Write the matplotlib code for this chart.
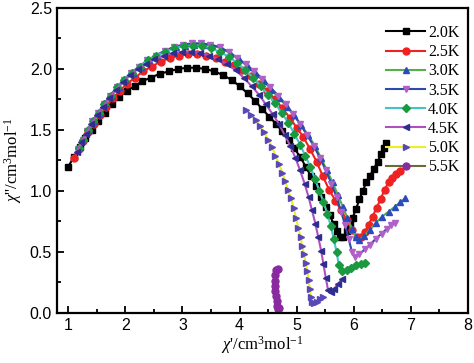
import matplotlib
matplotlib.use("Agg")
import matplotlib.pyplot as plt
from matplotlib.ticker import MultipleLocator, FormatStrFormatter

# ---- data ----
labels = ["2.0K", "2.5K", "3.0K", "3.5K", "4.0K", "4.5K", "5.0K", "5.5K"]

x_20 = [1.00,1.10,1.20,1.30,1.41,1.52,1.64,1.76,1.89,2.02,2.16,2.30,2.45,2.60,2.76,2.92,3.08,3.24,3.40,3.56,3.71,3.86,4.00,4.14,4.27,4.40,4.52,4.64,4.75,4.86,4.96,5.06,5.16,5.25,5.34,5.43,5.51,5.58,5.65,5.71,5.76,5.82,5.88,5.93,5.98,6.04,6.10,6.16,6.22,6.28,6.35,6.42,6.48,6.53,6.56]
y_20 = [1.20,1.28,1.36,1.43,1.50,1.57,1.64,1.71,1.77,1.82,1.86,1.90,1.93,1.96,1.98,2.00,2.01,2.01,2.00,1.98,1.95,1.91,1.86,1.80,1.74,1.67,1.61,1.55,1.49,1.42,1.35,1.28,1.20,1.12,1.04,0.95,0.87,0.80,0.73,0.67,0.62,0.62,0.67,0.73,0.78,0.85,0.93,1.00,1.07,1.12,1.18,1.24,1.30,1.35,1.39]

x_25 = [1.10,1.18,1.26,1.35,1.45,1.55,1.66,1.78,1.90,2.03,2.17,2.31,2.46,2.62,2.78,2.94,3.10,3.26,3.42,3.58,3.74,3.90,4.05,4.20,4.34,4.48,4.62,4.75,4.88,5.00,5.12,5.24,5.35,5.46,5.57,5.68,5.78,5.88,5.97,6.05,6.12,6.19,6.26,6.33,6.40,6.47,6.54,6.61,6.68,6.75,6.82]
y_25 = [1.27,1.34,1.41,1.48,1.55,1.62,1.69,1.76,1.82,1.88,1.93,1.98,2.02,2.06,2.09,2.11,2.12,2.12,2.11,2.09,2.06,2.03,1.99,1.94,1.88,1.82,1.75,1.68,1.60,1.52,1.44,1.34,1.24,1.12,1.01,0.92,0.84,0.76,0.68,0.62,0.62,0.66,0.72,0.79,0.86,0.93,1.01,1.07,1.11,1.14,1.16]

x_30 = [1.20,1.28,1.36,1.45,1.55,1.65,1.76,1.88,2.00,2.13,2.27,2.41,2.56,2.72,2.88,3.04,3.20,3.36,3.52,3.68,3.84,3.99,4.14,4.28,4.42,4.56,4.70,4.83,4.96,5.08,5.20,5.32,5.43,5.53,5.63,5.72,5.81,5.89,5.97,6.04,6.10,6.18,6.28,6.39,6.50,6.61,6.72,6.82,6.90]
y_30 = [1.36,1.43,1.50,1.57,1.64,1.71,1.78,1.85,1.91,1.97,2.02,2.07,2.11,2.15,2.18,2.19,2.20,2.20,2.19,2.17,2.13,2.08,2.02,1.96,1.90,1.83,1.76,1.69,1.62,1.54,1.46,1.37,1.27,1.17,1.07,0.97,0.87,0.78,0.69,0.62,0.60,0.63,0.68,0.74,0.79,0.83,0.87,0.91,0.94]

x_35 = [1.17,1.25,1.33,1.42,1.52,1.62,1.73,1.85,1.97,2.10,2.24,2.38,2.53,2.69,2.85,3.01,3.17,3.33,3.49,3.65,3.81,3.96,4.11,4.26,4.40,4.54,4.68,4.81,4.94,5.06,5.18,5.30,5.41,5.51,5.61,5.70,5.78,5.85,5.91,5.97,6.03,6.10,6.19,6.29,6.39,6.49,6.58,6.66,6.72]
y_35 = [1.34,1.42,1.49,1.57,1.64,1.71,1.78,1.85,1.91,1.97,2.02,2.07,2.11,2.15,2.18,2.20,2.21,2.21,2.20,2.18,2.14,2.09,2.04,1.98,1.92,1.85,1.78,1.71,1.63,1.55,1.46,1.37,1.27,1.17,1.06,0.95,0.83,0.72,0.61,0.50,0.46,0.48,0.52,0.56,0.61,0.65,0.69,0.72,0.74]

x_40 = [1.18,1.26,1.34,1.43,1.53,1.63,1.74,1.86,1.98,2.11,2.25,2.39,2.54,2.70,2.86,3.02,3.18,3.34,3.50,3.66,3.81,3.96,4.10,4.24,4.37,4.50,4.62,4.74,4.85,4.96,5.06,5.15,5.24,5.32,5.40,5.47,5.54,5.60,5.65,5.70,5.74,5.80,5.88,5.96,6.04,6.12,6.20]
y_40 = [1.35,1.42,1.50,1.57,1.64,1.71,1.78,1.85,1.91,1.97,2.02,2.07,2.11,2.14,2.17,2.19,2.19,2.19,2.17,2.14,2.10,2.05,1.99,1.93,1.86,1.79,1.72,1.64,1.56,1.47,1.38,1.29,1.20,1.10,1.00,0.91,0.81,0.71,0.61,0.50,0.39,0.34,0.35,0.37,0.39,0.40,0.41]

x_45 = [1.15,1.23,1.31,1.40,1.50,1.60,1.71,1.83,1.95,2.08,2.22,2.36,2.51,2.67,2.83,2.99,3.15,3.31,3.47,3.63,3.78,3.93,4.07,4.21,4.34,4.46,4.58,4.69,4.79,4.89,4.98,5.06,5.14,5.21,5.27,5.33,5.38,5.43,5.47,5.51,5.55,5.60,5.66,5.73,5.80]
y_45 = [1.32,1.40,1.47,1.55,1.62,1.69,1.76,1.83,1.89,1.95,2.00,2.04,2.08,2.11,2.13,2.14,2.14,2.13,2.11,2.08,2.04,1.99,1.93,1.86,1.79,1.71,1.63,1.55,1.46,1.37,1.27,1.17,1.06,0.95,0.84,0.73,0.62,0.51,0.40,0.29,0.19,0.17,0.20,0.24,0.28]

x_50 = [4.12,4.20,4.28,4.36,4.43,4.50,4.57,4.63,4.69,4.75,4.80,4.85,4.90,4.95,4.99,5.03,5.07,5.10,5.13,5.16,5.19,5.21,5.23,5.25,5.27,5.31,5.36,5.41,5.46]
y_50 = [1.66,1.62,1.58,1.53,1.48,1.42,1.36,1.29,1.22,1.15,1.08,1.01,0.94,0.86,0.78,0.70,0.62,0.55,0.48,0.41,0.34,0.27,0.20,0.13,0.09,0.08,0.09,0.11,0.13]

x_55 = [4.68,4.64,4.62,4.62,4.63,4.63,4.64,4.65,4.66,4.68,4.70]
y_55 = [0.36,0.35,0.31,0.26,0.22,0.18,0.14,0.10,0.06,0.03,0.04]

xs = [x_20, x_25, x_30, x_35, x_40, x_45, x_50, x_55]
ys = [y_20, y_25, y_30, y_35, y_40, y_45, y_50, y_55]

line_colors = ["#000000", "#ee2222", "#55b048", "#2c4aa8", "#44c4c8", "#b050c0", "#f0ee20", "#6e6a38"]
marker_colors = ["#000000", "#ee2222", "#2c4ac0", "#b060c8", "#1a9a40", "#2e2e90", "#5848b8", "#8a2aa0"]
markers = ["s", "o", "^", "v", "D", "<", ">", "o"]
msizes = [4, 5, 5, 5, 4.5, 5, 5, 5]

plt.rcParams['mathtext.fontset'] = 'custom'
plt.rcParams['mathtext.rm'] = 'Liberation Serif'
plt.rcParams['mathtext.it'] = 'Liberation Serif:italic'

fig = plt.figure(figsize=(4.74, 3.63), dpi=100)
ax = fig.add_axes([0.120, 0.138, 0.867, 0.840])

for x, y, lab, lc, mc, mk, ms in zip(xs, ys, labels, line_colors, marker_colors, markers, msizes):
    ax.plot(x, y, color=lc, lw=1.5, marker=mk, markersize=ms,
            markerfacecolor=mc, markeredgecolor=mc, label=lab)

ax.set_xlim(0.8, 8.0)
ax.set_ylim(0.0, 2.5)
ax.xaxis.set_major_locator(MultipleLocator(1))
ax.xaxis.set_minor_locator(MultipleLocator(0.5))
ax.yaxis.set_major_locator(MultipleLocator(0.5))
ax.yaxis.set_minor_locator(MultipleLocator(0.25))
ax.xaxis.set_major_formatter(FormatStrFormatter('%d'))
ax.yaxis.set_major_formatter(FormatStrFormatter('%.1f'))
ax.tick_params(which='both', direction='in', top=False, right=False, width=1.3)
ax.tick_params(which='major', length=5, labelsize=11.5)
ax.tick_params(which='minor', length=3)
for lbl in ax.get_xticklabels() + ax.get_yticklabels():
    lbl.set_fontfamily('Liberation Sans')
for s in ax.spines.values():
    s.set_linewidth(1.6)

ax.set_xlabel(r"$\chi$'/cm$^{3}$mol$^{-1}$", fontfamily='Liberation Serif', fontsize=12, labelpad=1)
ax.set_ylabel(r"$\chi$''/cm$^{3}$mol$^{-1}$", fontfamily='Liberation Serif', fontsize=12, labelpad=4)

leg = ax.legend(loc='upper right', frameon=False, prop={'family': 'Liberation Serif', 'size': 11.5},
                handlelength=2.4, handletextpad=0.2, labelspacing=0.2,
                borderaxespad=0.0, bbox_to_anchor=(0.995, 0.965))

fig.savefig("out.png", dpi=100)
